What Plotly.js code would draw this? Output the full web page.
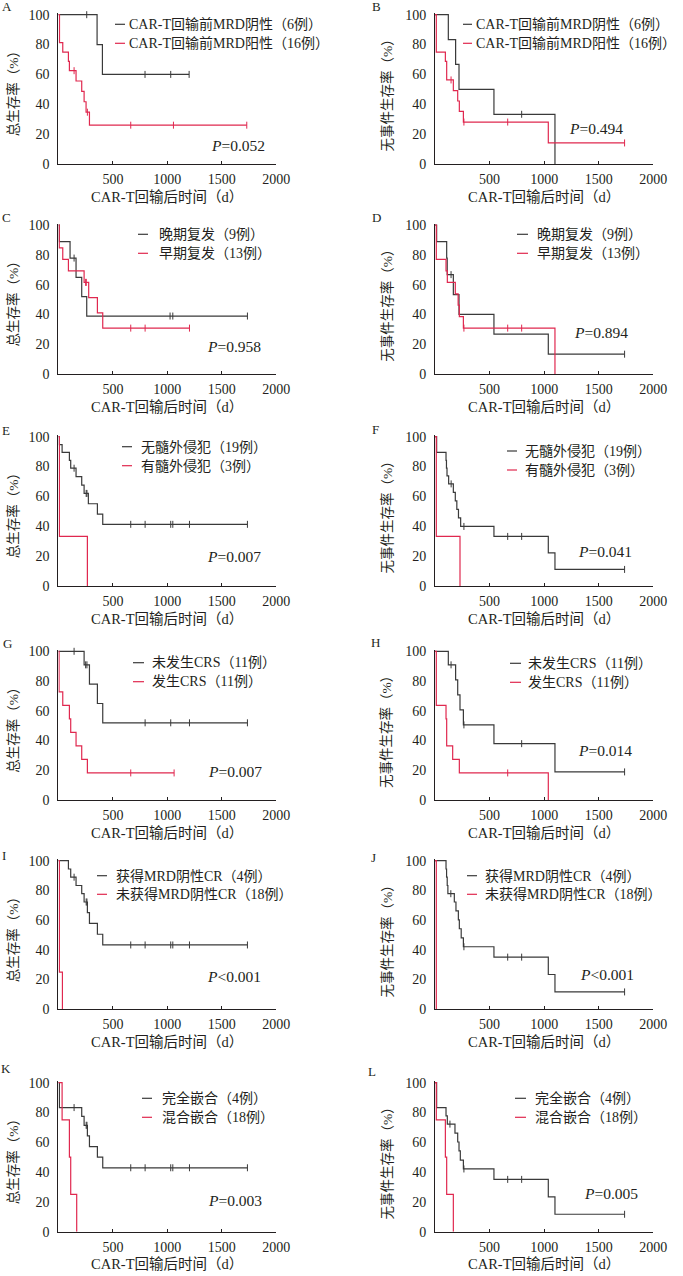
<!DOCTYPE html>
<html>
<head>
<meta charset="utf-8">
<script src="https://cdn.plot.ly/plotly-3.0.1.min.js"></script>
<style>
  html, body { margin: 0; padding: 0; background: #ffffff; }
  #chart { width: 683px; height: 1276px; }
</style>
</head>
<body>
<div id="chart"></div>
<script>
// Kaplan–Meier step data: event times (d), survival (%), censor times (d)
// A: overall survival by pre-infusion MRD status
const aBlkT = [0, 355, 404];
const aBlkS = [100, 80, 60];
const aBlkC = [260, 795, 1031, 1200];
const aRedT = [0, 10, 40, 92, 101, 162, 214, 236, 254, 285];
const aRedS = [100, 81.3, 75, 68.8, 62.5, 55.6, 48.6, 41.7, 34.7, 26.0];
const aRedC = [144, 266, 664, 1056, 1729];
// B: event-free survival by pre-infusion MRD status
const bBlkT = [0, 122, 189, 220, 540, 1099];
const bBlkS = [100, 83.3, 66.7, 50, 33.3, 0];
const bBlkC = [794];
const bRedT = [0, 12, 95, 107, 168, 208, 223, 260, 1038];
const bRedS = [100, 75, 68.8, 56.3, 49.2, 42.2, 35.2, 28.1, 14.1];
const bRedC = [147, 265, 666, 1737];
// C: overall survival, late vs early relapse
const cBlkT = [0, 9, 107, 162, 214, 260];
const cBlkS = [100, 88.9, 77.8, 64.8, 51.9, 38.9];
const cBlkC = [144, 1025, 1050, 1735];
const cRedT = [0, 8, 40, 92, 236, 278, 358, 407];
const cRedS = [100, 84.6, 76.9, 69.2, 61.5, 51.3, 41.0, 30.8];
const cRedC = [250, 256, 664, 796, 1203];
// D: event-free survival, late vs early relapse
const dBlkT = [0, 15, 107, 112, 168, 220, 540, 1038];
const dBlkS = [100, 88.9, 77.8, 66.7, 53.3, 40, 26.7, 13.3];
const dBlkC = [147, 1737];
const dRedT = [0, 12, 101, 113, 186, 212, 223, 260, 1099];
const dRedS = [100, 76.9, 69.2, 61.5, 53.8, 46.2, 38.5, 30.8, 0];
const dRedC = [265, 666, 794];
// E: overall survival by extramedullary involvement
const eBlkT = [0, 9, 34, 101, 113, 162, 214, 236, 275, 358, 407];
const eBlkS = [100, 94.7, 89.5, 84.2, 78.9, 73.3, 67.6, 62.0, 55.1, 48.2, 41.3];
const eBlkC = [144, 255, 262, 664, 796, 1031, 1050, 1203, 1735];
const eRedT = [0, 9, 266];
const eRedS = [100, 33.3, 0];
const eRedC = [];
// F: event-free survival by extramedullary involvement
const fBlkT = [0, 15, 101, 105, 110, 125, 168, 186, 200, 215, 235, 540, 1038, 1099];
const fBlkS = [100, 89.5, 84.2, 78.9, 73.7, 68.4, 62.7, 57.0, 51.3, 45.6, 39.9, 33.2, 22.2, 11.1];
const fBlkC = [148, 265, 666, 794, 1737];
const fRedT = [0, 12, 229];
const fRedS = [100, 33.3, 0];
const fRedC = [];
// G: overall survival by CRS
const gBlkT = [0, 236, 285, 358, 407];
const gBlkS = [100, 90.9, 77.9, 64.9, 51.9];
const gBlkC = [144, 250, 262, 796, 1031, 1203, 1735];
const gRedT = [0, 6, 40, 101, 113, 162, 214, 266];
const gRedS = [100, 72.7, 63.6, 54.5, 45.5, 36.4, 27.3, 18.2];
const gRedC = [664, 1062];
// H: event-free survival by CRS
const hBlkT = [0, 122, 189, 208, 229, 260, 540, 1099];
const hBlkS = [100, 90.9, 80.8, 70.7, 60.6, 50.5, 37.9, 18.9];
const hBlkC = [147, 265, 794, 1737];
const hRedT = [0, 12, 101, 107, 162, 223, 1038];
const hRedS = [100, 63.6, 54.5, 36.4, 27.3, 18.2, 0];
const hRedC = [666];
// I: overall survival by MRD-negative CR
const iBlkT = [0, 92, 113, 162, 214, 236, 266, 285, 358, 407];
const iBlkS = [100, 94.4, 88.9, 83.3, 77.8, 72.2, 65.0, 57.8, 50.5, 43.3];
const iBlkC = [144, 255, 262, 664, 796, 1031, 1050, 1203, 1735];
const iRedT = [0, 9, 37];
const iRedS = [100, 25, 0];
const iRedC = [];
// J: event-free survival by MRD-negative CR
const jBlkT = [0, 101, 106, 112, 118, 177, 192, 214, 223, 240, 260, 540, 1038, 1099];
const jBlkS = [100, 94.4, 88.9, 83.3, 77.8, 72.2, 66.2, 60.2, 54.2, 48.1, 42.1, 35.1, 23.4, 11.7];
const jBlkC = [145, 265, 666, 794, 1737];
const jRedT = [0, 12];
const jRedS = [100, 0];
const jRedC = [];
// K: overall survival by chimerism
const kBlkT = [0, 9, 214, 236, 266, 285, 358, 407];
const kBlkS = [100, 83.3, 77.4, 71.4, 64.3, 57.1, 50.0, 42.9];
const kBlkC = [144, 255, 262, 664, 796, 1031, 1050, 1203, 1735];
const kRedT = [0, 34, 101, 113, 168];
const kRedS = [100, 75, 50, 25, 0];
const kRedC = [];
// L: event-free survival by chimerism
const lBlkT = [0, 15, 101, 113, 183, 208, 220, 232, 260, 540, 1038, 1099];
const lBlkS = [100, 83.3, 77.8, 72.2, 66.2, 60.2, 54.2, 48.1, 42.1, 35.1, 23.4, 11.7];
const lBlkC = [137, 265, 666, 794, 1737];
const lRedT = [0, 12, 95, 107, 168];
const lRedS = [100, 75, 50, 25, 0];
const lRedC = [];

// Text
const panelLetters = ['A', 'B', 'C', 'D', 'E', 'F', 'G', 'H', 'I', 'J', 'K', 'L'];
const groupLabels = [
  ['CAR-T回输前MRD阴性（6例）', 'CAR-T回输前MRD阳性（16例）'],
  ['晚期复发（9例）', '早期复发（13例）'],
  ['无髓外侵犯（19例）', '有髓外侵犯（3例）'],
  ['未发生CRS（11例）', '发生CRS（11例）'],
  ['获得MRD阴性CR（4例）', '未获得MRD阴性CR（18例）'],
  ['完全嵌合（4例）', '混合嵌合（18例）']
];
const pValues = ['=0.052', '=0.494', '=0.958', '=0.894', '=0.007', '=0.041',
                 '=0.007', '=0.014', '<0.001', '<0.001', '=0.003', '=0.005'];
const yTitles = ['总生存率（%）', '无事件生存率（%）'];
const xTitle = 'CAR-T回输后时间（d）';
const xTicks = [500, 1000, 1500, 2000];
const yTicks = [0, 20, 40, 60, 80, 100];

const series = [
  [aBlkT, aBlkS, aBlkC, aRedT, aRedS, aRedC],
  [bBlkT, bBlkS, bBlkC, bRedT, bRedS, bRedC],
  [cBlkT, cBlkS, cBlkC, cRedT, cRedS, cRedC],
  [dBlkT, dBlkS, dBlkC, dRedT, dRedS, dRedC],
  [eBlkT, eBlkS, eBlkC, eRedT, eRedS, eRedC],
  [fBlkT, fBlkS, fBlkC, fRedT, fRedS, fRedC],
  [gBlkT, gBlkS, gBlkC, gRedT, gRedS, gRedC],
  [hBlkT, hBlkS, hBlkC, hRedT, hRedS, hRedC],
  [iBlkT, iBlkS, iBlkC, iRedT, iRedS, iRedC],
  [jBlkT, jBlkS, jBlkC, jRedT, jRedS, jRedC],
  [kBlkT, kBlkS, kBlkC, kRedT, kRedS, kRedC],
  [lBlkT, lBlkS, lBlkC, lRedT, lRedS, lRedC]
];

// ---- layout geometry (pixels) ----
const W = 683, H = 1276;
const px = x => x / W;
const py = y => 1 - y / H;
const colX = [[58.4, 276.3], [435, 653.3]];
const rowY = [[14.7, 164], [225, 374], [436.7, 586], [651.3, 800], [860.7, 1009.3], [1082.7, 1231.7]];
// legend: [line x0, line x1, text x, row1 y, row2 y]
const legendPos = [
  [115, 125, 127, 24.3, 43.3], [463, 472, 474, 24.3, 43.3],
  [138, 148, 157, 234.3, 253.3], [517, 528, 535, 234.3, 253.3],
  [122, 132, 139, 446.7, 465.7], [507, 517, 523, 451, 470],
  [133, 144, 150, 662.7, 681.7], [510, 521, 526, 663.3, 682.3],
  [97, 107, 114, 875.7, 894.3], [467, 477, 483, 875.7, 894.3],
  [142, 152, 160, 1098.3, 1117.3], [515, 526, 533, 1098.3, 1117.3]
];
// p-value: [right edge x, centre y]
const pPos = [
  [267, 145.7], [625, 128.3], [263, 346], [630, 332.7], [263, 556.7], [634, 551],
  [264, 771], [634, 750], [263, 976], [636, 974.3], [264, 1200.7], [640, 1193.3]
];
const letterPos = [
  [7, 7], [376, 7], [6, 218], [376, 218], [6, 430], [375, 429],
  [7, 643], [375, 642], [4, 856], [373, 857], [6, 1068], [372, 1071]
];

const SERIF = "'Liberation Serif', 'Noto Sans CJK SC', serif";
const INK = '#231f20';
const BLACK = '#3a3a3a';
const RED = '#e0284f';
const Y_MAX = 101;

function survAt(t, s, time) {
  let v = s[0];
  for (let i = 0; i < t.length; i++) if (t[i] <= time) v = s[i];
  return v;
}

function kmTraces(t, s, c, k, color) {
  const xs = t.slice(), ys = s.slice();
  const end = c.length ? Math.max(...c) : t[t.length - 1];
  if (end > t[t.length - 1]) { xs.push(end); ys.push(s[s.length - 1]); }
  const ax = k === 1 ? '' : String(k);
  const out = [{
    x: xs, y: ys, xaxis: 'x' + ax, yaxis: 'y' + ax,
    mode: 'lines', line: { shape: 'hv', color: color, width: 1.2 },
    hoverinfo: 'skip', showlegend: false
  }];
  if (c.length) {
    out.push({
      x: c, y: c.map(v => survAt(t, s, v)), xaxis: 'x' + ax, yaxis: 'y' + ax,
      mode: 'markers',
      marker: { symbol: 'line-ns-open', size: 5, color: color, line: { color: color, width: 1 } },
      cliponaxis: false, hoverinfo: 'skip', showlegend: false
    });
  }
  return out;
}

const data = [];
const layout = {
  width: W, height: H,
  margin: { l: 0, r: 0, t: 0, b: 0 },
  paper_bgcolor: '#ffffff', plot_bgcolor: '#ffffff',
  showlegend: false,
  font: { family: SERIF, color: INK, size: 14 },
  annotations: [], shapes: []
};

for (let p = 0; p < 12; p++) {
  const k = p + 1;
  const row = Math.floor(p / 2), col = p % 2;
  const [x0, x1] = colX[col];
  const [top, bot] = rowY[row];
  const topR = top - (bot - top) * (Y_MAX - 100) / 100;
  const ax = k === 1 ? '' : String(k);
  const [bt, bs, bc, rt, rs, rc] = series[p];

  data.push(...kmTraces(bt, bs, bc, k, BLACK));
  data.push(...kmTraces(rt, rs, rc, k, RED));

  layout['xaxis' + ax] = {
    domain: [px(x0), px(x1)], anchor: 'y' + ax,
    range: [0, 2000], tickvals: xTicks, ticktext: xTicks.map(String),
    ticks: 'inside', ticklen: 3, tickwidth: 1, tickcolor: INK,
    showline: true, linecolor: INK, linewidth: 1,
    showgrid: false, zeroline: false, fixedrange: true,
    ticklabelstandoff: 2,
    tickfont: { family: SERIF, size: 14, color: INK }
  };
  layout['yaxis' + ax] = {
    domain: [py(bot), py(topR)], anchor: 'x' + ax,
    range: [0, Y_MAX], tickvals: yTicks, ticktext: yTicks.map(String),
    ticks: '', showline: true, linecolor: INK, linewidth: 1,
    showgrid: false, zeroline: false, fixedrange: true,
    ticklabelstandoff: 5,
    tickfont: { family: SERIF, size: 14, color: INK }
  };

  // x-axis title
  layout.annotations.push({
    xref: 'paper', yref: 'paper', x: px((x0 + x1) / 2), y: py(bot + 32.7),
    xanchor: 'center', yanchor: 'middle', showarrow: false,
    text: xTitle, font: { family: SERIF, size: 14.5, color: INK }
  });
  // y-axis title (rotated)
  layout.annotations.push({
    xref: 'paper', yref: 'paper',
    x: px(col === 0 ? 13 : 386.7), y: py(top + (col === 0 ? 123.5 : 138.5)),
    xanchor: 'center', yanchor: 'bottom', textangle: -90, showarrow: false,
    text: yTitles[col], font: { family: SERIF, size: 13.5, color: INK }
  });
  // panel letter
  layout.annotations.push({
    xref: 'paper', yref: 'paper', x: px(letterPos[p][0]), y: py(letterPos[p][1]),
    xanchor: 'center', yanchor: 'middle', showarrow: false,
    text: panelLetters[p], font: { family: SERIF, size: 13, color: INK }
  });
  // p value
  layout.annotations.push({
    xref: 'paper', yref: 'paper', x: px(pPos[p][0]), y: py(pPos[p][1]),
    xanchor: 'right', yanchor: 'middle', showarrow: false,
    text: '<i>P</i>' + pValues[p], font: { family: SERIF, size: 15.5, color: INK }
  });
  // legend
  const [lx0, lx1, tx, ly1, ly2] = legendPos[p];
  const labels = groupLabels[row];
  [[ly1, BLACK, labels[0]], [ly2, RED, labels[1]]].forEach(([ly, colr, lab]) => {
    layout.shapes.push({
      type: 'line', xref: 'paper', yref: 'paper',
      x0: px(lx0), x1: px(lx1), y0: py(ly), y1: py(ly),
      line: { color: colr, width: 1.2 }
    });
    layout.annotations.push({
      xref: 'paper', yref: 'paper', x: px(tx), y: py(ly),
      xanchor: 'left', yanchor: 'middle', showarrow: false,
      text: lab, font: { family: SERIF, size: 14, color: INK }
    });
  });
}

Plotly.newPlot('chart', data, layout, { staticPlot: true, displayModeBar: false });
</script>
</body>
</html>
